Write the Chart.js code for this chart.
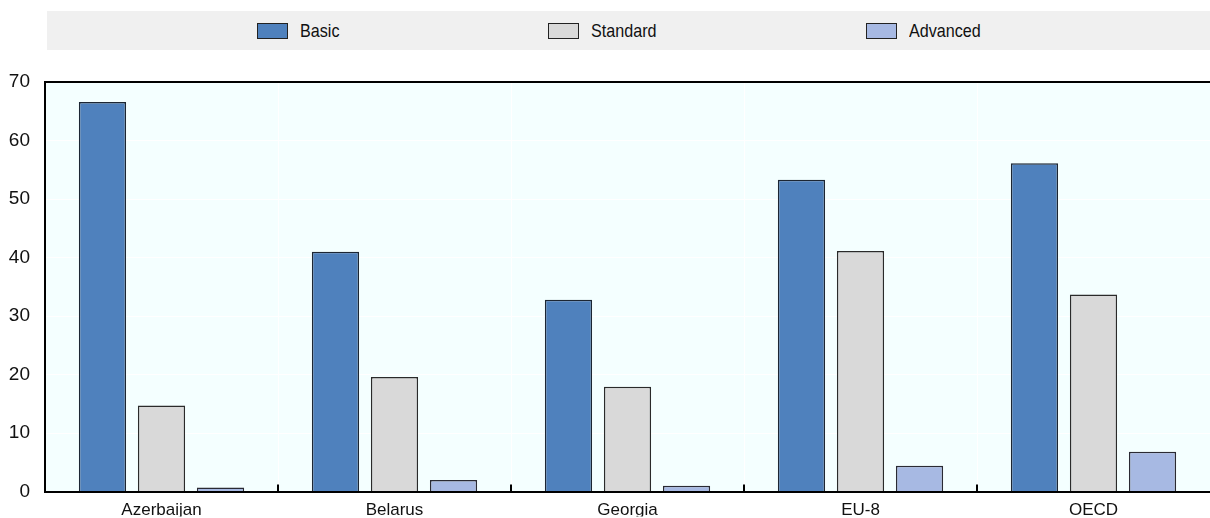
<!DOCTYPE html>
<html>
<head>
<meta charset="utf-8">
<script src="https://cdn.jsdelivr.net/npm/chart.js@4/dist/chart.umd.min.js"></script>
<style>
  body { margin: 0; background: #fff; font-family: "Liberation Sans", Arial, sans-serif; }
  #wrap { position: relative; width: 1210px; height: 518px; overflow: hidden; }
  #legend {
    position: absolute; left: 47px; top: 11px; width: 1163px; height: 39px;
    background: #f0f0f0; font-size: 19px; color: #111;
  }
  .item { position: absolute; top: 0; height: 39px; display: flex; align-items: center; white-space: nowrap; }
  .box { width: 29px; height: 14px; border: 1px solid #222; margin-right: 12px; }
  .lbl { display: inline-block; transform: scaleX(0.85); transform-origin: left center; }
</style>
</head>
<body>
<div id="wrap">
  <div id="legend"></div>
  <canvas id="chart" width="1210" height="518"></canvas>
</div>
<script>
const categories = ['Azerbaijan', 'Belarus', 'Georgia', 'EU-8', 'OECD'];
const seriesNames = ['Basic', 'Standard', 'Advanced'];
const basic = [66.6, 41.0, 32.8, 53.3, 56.1];
const standard = [14.7, 19.6, 17.9, 41.1, 33.7];
const advanced = [0.7, 2.0, 1.0, 4.4, 6.8];
const yTicks = [0, 10, 20, 30, 40, 50, 60, 70];

const colors = ['#4f81bd', '#d9d9d9', '#a7b9e3'];
const borders = ['#1c2633', '#2a2a2a', '#2a2a33'];
const legendLeft = [210, 501, 819]; // item offsets inside the legend band
const font = "'Liberation Sans', Arial, sans-serif";

// background of the plot area + inner tick marks on the bottom axis
const plotDecor = {
  id: 'plotDecor',
  beforeDraw(chart) {
    const { ctx, chartArea: a } = chart;
    ctx.save();
    ctx.fillStyle = '#f4ffff';
    ctx.fillRect(a.left, a.top, a.right - a.left, a.bottom - a.top);
    ctx.restore();
  },
  afterDraw(chart) {
    const { ctx, chartArea: a, scales } = chart;
    const x = scales.x;
    const half = (x.getPixelForValue(1) - x.getPixelForValue(0)) / 2;
    ctx.save();
    ctx.strokeStyle = '#000';
    ctx.lineWidth = 2;
    for (let i = 1; i < categories.length; i++) {
      const px = Math.round(x.getPixelForValue(i) - half);
      ctx.beginPath();
      ctx.moveTo(px, a.bottom);
      ctx.lineTo(px, a.bottom - 7);
      ctx.stroke();
    }
    ctx.restore();
  }
};

const datasets = [basic, standard, advanced].map((d, i) => ({
  label: seriesNames[i],
  data: d,
  backgroundColor: colors[i],
  borderColor: borders[i],
  borderWidth: 1.5,
  categoryPercentage: 0.76,
  barPercentage: 0.8
}));

new Chart(document.getElementById('chart'), {
  type: 'bar',
  data: { labels: categories, datasets },
  options: {
    responsive: false,
    animation: false,
    layout: { padding: { top: 82, right: 0, left: 0, bottom: 0 } },
    plugins: { legend: { display: false }, tooltip: { enabled: false } },
    scales: {
      x: {
        afterFit(s) { s.height = 25; },
        grid: { offset: true, color: '#ffffff', lineWidth: 1, drawTicks: false },
        border: { display: true, color: '#000', width: 2 },
        ticks: { color: '#111', padding: 9, font: { family: font, size: 17 } }
      },
      y: {
        min: 0,
        max: 70,
        afterFit(s) { s.width = 45; },
        afterBuildTicks(s) { s.ticks = yTicks.map(v => ({ value: v })); },
        grid: {
          drawTicks: false,
          color: c => c.tick && c.tick.value === 70 ? '#000' : '#ffffff',
          lineWidth: c => c.tick && c.tick.value === 70 ? 2 : 1
        },
        border: { display: true, color: '#000', width: 2 },
        ticks: { color: '#111', padding: 15, font: { family: font, size: 19 } }
      }
    }
  },
  plugins: [plotDecor]
});

// legend built from the datasets
const legend = document.getElementById('legend');
datasets.forEach((ds, i) => {
  const item = document.createElement('div');
  item.className = 'item';
  item.style.left = legendLeft[i] + 'px';
  const box = document.createElement('span');
  box.className = 'box';
  box.style.background = ds.backgroundColor;
  const txt = document.createElement('span');
  txt.className = 'lbl';
  txt.textContent = ds.label;
  item.appendChild(box);
  item.appendChild(txt);
  legend.appendChild(item);
});
</script>
</body>
</html>
